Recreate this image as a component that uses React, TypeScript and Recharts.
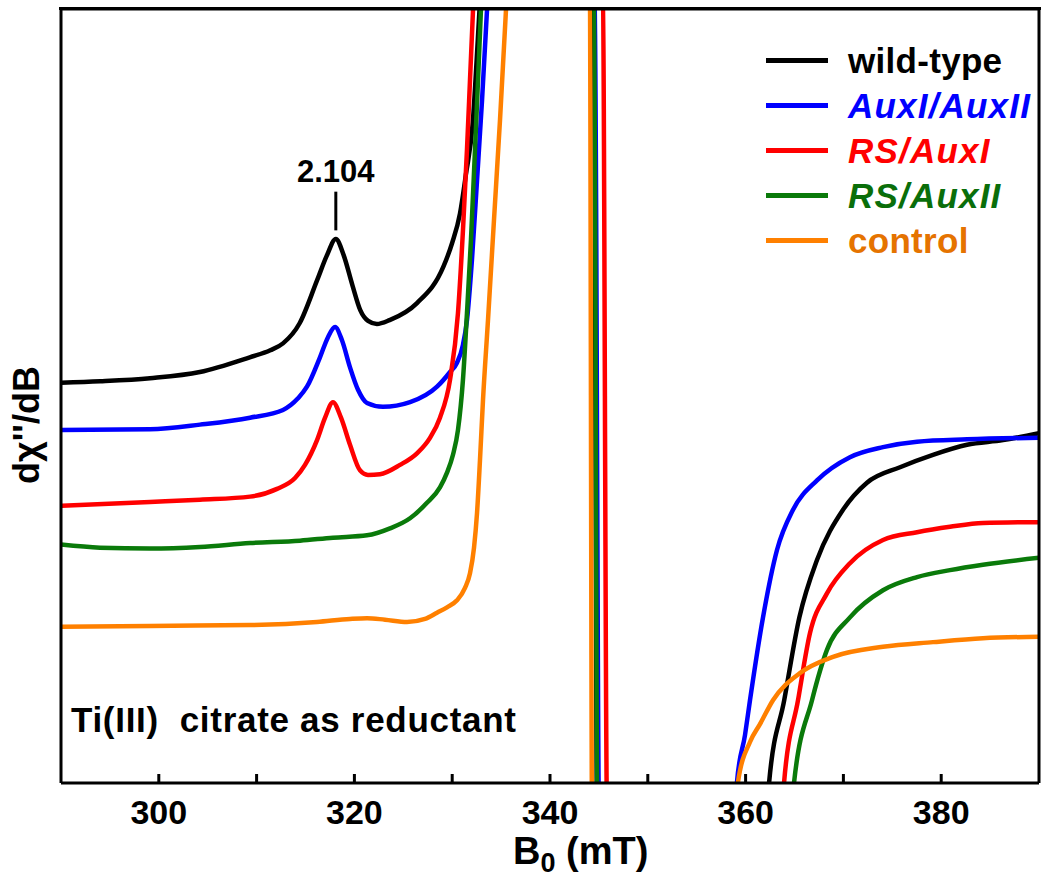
import React from "react";
import { LineChart, Line, XAxis, YAxis, ReferenceLine, Label } from "recharts";

// field in mT, signal in arbitrary units (0 = bottom of the frame, 100 = top)
const wildTypeB = [290.0, 294.0, 299.1, 304.2, 309.3, 311.4, 312.7, 314.4, 316.2, 317.2, 318.1, 318.9, 319.8, 320.6, 321.4, 322.3, 323.6, 326.4, 329.1, 330.0, 330.8, 331.4, 332.1, 332.5, 332.8, 333.2, 344.47, 344.82, 362.3, 362.4, 363.95, 365.5, 367.3, 369.96, 372.41, 375.79, 379.16, 382.64, 386.32, 390.0];
const wildTypeY = [51.7, 51.9, 52.3, 53.1, 55.0, 55.9, 56.8, 59.4, 65.0, 68.2, 70.3, 68.2, 64.3, 61.1, 59.7, 59.3, 59.8, 62.0, 66.7, 69.8, 73.6, 78.6, 85.3, 93.4, 100.1, 110, 104, -4, -4, 0, 10.7, 21.4, 28.8, 35.3, 38.8, 40.8, 42.4, 43.7, 44.3, 45.2];

const auxBothB = [290.0, 299.1, 304.21, 309.33, 312.7, 314.23, 315.15, 316.48, 317.3, 318.02, 318.73, 319.55, 320.37, 321.29, 322.92, 325.69, 328.45, 329.78, 330.49, 331.1, 331.51, 332.02, 332.54, 333.05, 333.56, 334.0, 344.57, 345.02, 359.0, 359.12, 359.94, 360.45, 361.78, 363.21, 364.85, 367.3, 370.67, 374.05, 377.53, 382.64, 390.0];
const auxBothY = [45.6, 45.7, 46.3, 47.2, 48.2, 49.7, 51.2, 55.0, 57.6, 58.9, 57.2, 53.7, 50.8, 49.1, 48.6, 49.2, 51.2, 53.1, 54.3, 56.6, 59.8, 67.6, 77.9, 88.2, 99.9, 110, 104, -4, -4, 0.1, 6.2, 10.7, 21.4, 30.1, 35.3, 39.1, 42.1, 43.4, 44.1, 44.4, 44.6];

const rsAux1B = [290.0, 299.1, 304.21, 309.33, 312.09, 313.93, 314.95, 316.18, 317.0, 317.81, 318.63, 319.55, 320.57, 321.39, 322.62, 324.66, 326.4, 327.73, 328.75, 329.78, 330.59, 331.1, 331.51, 331.82, 332.13, 332.5, 345.39, 345.84, 363.8, 363.93, 365.36, 366.59, 368.32, 370.67, 374.05, 377.53, 380.9, 384.27, 390.0];
const rsAux1Y = [35.8, 36.3, 36.6, 37.0, 38.0, 39.4, 41.1, 44.3, 47.2, 49.2, 47.2, 43.7, 40.4, 39.8, 39.9, 41.1, 42.6, 44.6, 47.2, 52.1, 60.7, 71.4, 81.8, 90.8, 99.9, 110, 104, -4, -4, 0, 10.7, 19.4, 24.5, 28.4, 31.4, 32.4, 33.1, 33.6, 33.7];

const rsAux2B = [290.0, 293.99, 299.1, 304.21, 309.33, 314.44, 317.81, 321.29, 323.64, 325.69, 327.42, 328.75, 329.47, 330.08, 330.59, 331.1, 331.51, 331.92, 332.33, 332.64, 332.94, 333.3, 344.5, 344.85, 364.8, 364.95, 366.79, 368.32, 370.67, 374.05, 377.53, 380.9, 384.27, 390.0];
const rsAux2Y = [30.8, 30.4, 30.3, 30.5, 31.0, 31.3, 31.7, 32.0, 32.9, 34.2, 36.2, 38.2, 40.1, 42.4, 45.6, 52.1, 60.7, 70.2, 81.8, 90.8, 99.9, 110, 104, -4, -4, 0, 10.7, 17.2, 21.4, 24.9, 26.6, 27.5, 28.2, 29.1];

const controlB = [290.0, 299.1, 309.33, 316.18, 319.55, 321.29, 323.13, 325.38, 327.22, 328.45, 329.47, 330.49, 331.31, 331.82, 332.23, 332.54, 332.84, 333.15, 333.66, 334.27, 334.89, 335.5, 335.9, 344.07, 344.3, 359.1, 359.22, 360.45, 361.47, 362.8, 365.56, 368.94, 374.05, 379.16, 384.27, 390.0];
const controlY = [20.2, 20.3, 20.4, 20.8, 21.2, 21.3, 21.1, 20.8, 21.2, 22.0, 22.7, 23.6, 25.2, 27.1, 30.4, 34.9, 41.7, 49.5, 59.8, 72.7, 85.7, 99.9, 110, 104, -4, -4, 0.1, 5.3, 7.6, 10.7, 14.2, 16.3, 17.6, 18.2, 18.7, 18.9];

const fieldTicks = [300, 310, 320, 330, 340, 350, 360, 370, 380];
const gMarkB = 318.1;
const gMarkY = [71.4, 76.4];

const font = "'Liberation Sans', Arial, sans-serif";

const series = [
  { key: "wt", name: "wild-type", color: "#000000", text: "#000000", italic: false, b: wildTypeB, y: wildTypeY },
  { key: "aux", name: "AuxI/AuxII", color: "#0000ff", text: "#0000ff", italic: true, b: auxBothB, y: auxBothY },
  { key: "rs1", name: "RS/AuxI", color: "#ff0000", text: "#ff0000", italic: true, b: rsAux1B, y: rsAux1Y },
  { key: "rs2", name: "RS/AuxII", color: "#0a7a0a", text: "#0a6e0a", italic: true, b: rsAux2B, y: rsAux2Y },
  { key: "ctl", name: "control", color: "#ff8000", text: "#e57300", italic: false, b: controlB, y: controlY },
];

const toPoints = (b: number[], y: number[]) => b.map((v, i) => ({ b: v, y: y[i] }));

export default function App() {
  return (
    <div style={{ position: "absolute", left: 0, top: 0, width: 1050, height: 881, background: "#fff", fontFamily: font }}>
      <LineChart width={1050} height={881} margin={{ top: 0, right: 10, bottom: 0, left: 60 }}>
        <XAxis
          dataKey="b"
          type="number"
          domain={[290, 390]}
          ticks={fieldTicks}
          allowDataOverflow
          height={98}
          tickSize={-9}
          tickMargin={26}
          tickFormatter={(v: number) => (v % 20 === 0 ? String(v) : "")}
          tick={{ fill: "#000", fontSize: 34, fontWeight: 700, fontFamily: font }}
          tickLine={{ stroke: "#000", strokeWidth: 3 }}
          axisLine={{ stroke: "#000", strokeWidth: 3 }}
        >
          <Label
            content={() => (
              <text x={513} y={864} fontSize={38} fontWeight={700} fontFamily={font} fill="#000">
                B
                <tspan fontSize={27} dy={8}>0</tspan>
                <tspan dy={-8}> (mT)</tspan>
              </text>
            )}
          />
        </XAxis>
        <XAxis
          xAxisId="top"
          orientation="top"
          dataKey="b"
          type="number"
          domain={[290, 390]}
          ticks={fieldTicks}
          height={9}
          tickSize={-9}
          tickFormatter={() => ""}
          tickLine={{ stroke: "#000", strokeWidth: 3 }}
          axisLine={{ stroke: "#000", strokeWidth: 3 }}
        />
        <YAxis
          type="number"
          domain={[0, 100]}
          allowDataOverflow
          width={1}
          tick={false}
          tickLine={false}
          axisLine={{ stroke: "#000", strokeWidth: 3 }}
        />
        <YAxis
          yAxisId="right"
          orientation="right"
          type="number"
          domain={[0, 100]}
          width={1}
          tick={false}
          tickLine={false}
          axisLine={{ stroke: "#000", strokeWidth: 3 }}
        />
        {series.map((s) => (
          <Line
            key={s.key}
            data={toPoints(s.b, s.y)}
            dataKey="y"
            type="monotone"
            stroke={s.color}
            strokeWidth={4.5}
            dot={false}
            activeDot={false}
            isAnimationActive={false}
          />
        ))}
        <ReferenceLine
          segment={[
            { x: gMarkB, y: gMarkY[0] },
            { x: gMarkB, y: gMarkY[1] },
          ]}
          stroke="#000"
          strokeWidth={3}
        >
          <Label
            value="2.104"
            position="top"
            offset={10}
            fill="#000"
            fontSize={31}
            fontWeight={700}
            fontFamily={font}
          />
        </ReferenceLine>
      </LineChart>

      {/* top edge of the frame */}
      <div style={{ position: "absolute", left: 59, top: 7, width: 982, height: 3, background: "#000" }} />

      <div
        style={{
          position: "absolute",
          left: 27,
          top: 425,
          transform: "translate(-50%, -50%) rotate(-90deg)",
          fontSize: 36,
          fontWeight: 700,
          whiteSpace: "nowrap",
          color: "#000",
        }}
      >
        dχ''/dB
      </div>

      <div style={{ position: "absolute", left: 766, top: 38 }}>
        {series.map((s) => (
          <div key={s.key} style={{ display: "flex", alignItems: "center", height: 45 }}>
            <span style={{ display: "inline-block", width: 62, height: 5, background: s.color, marginRight: 20 }} />
            <span
              style={{
                color: s.text,
                fontSize: 35,
                fontWeight: 700,
                fontStyle: s.italic ? "italic" : "normal",
                letterSpacing: s.italic ? 1.2 : 0.3,
                lineHeight: "45px",
              }}
            >
              {s.name}
            </span>
          </div>
        ))}
      </div>

      <div style={{ position: "absolute", left: 71, top: 700, fontSize: 35, fontWeight: 700, color: "#000", whiteSpace: "pre", letterSpacing: 0.7 }}>
        {"Ti(III)  citrate as reductant"}
      </div>
    </div>
  );
}
